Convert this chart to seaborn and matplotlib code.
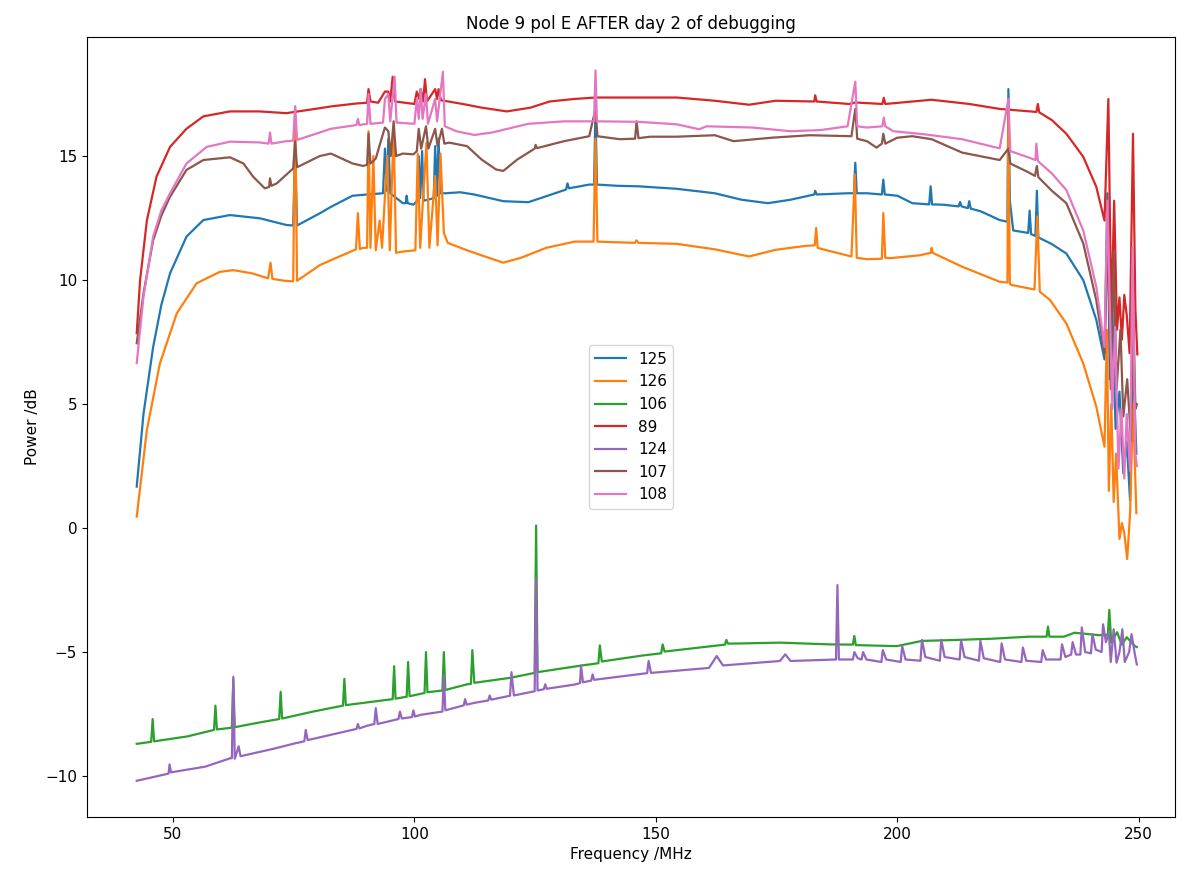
import matplotlib
matplotlib.use("Agg")
import matplotlib.pyplot as plt
import seaborn as sns

# (frequency MHz, power dB)
s125 = [(42.5,1.67),(43.9,4.6),(45.9,7.3),(47.6,9.0),(49.4,10.27),(52.8,11.75),(56.3,12.42),(61.8,12.62),
        (68.0,12.49),(73.5,12.22),(74.9,12.2),(75.3,15.4),(75.7,12.2),(80.4,12.69),(82.7,12.95),
        (87.2,13.4),(90.2,13.45),(93.5,13.5),(93.9,15.3),(94.3,13.6),(94.6,15.7),(95.0,13.5),(97.6,13.1),
        (98.2,13.1),(98.4,13.4),(98.6,13.1),(99.8,13.04),(100.6,13.2),(100.9,15.0),(101.2,13.3),(101.6,15.2),
        (101.9,13.2),(104.0,13.3),(104.3,15.4),(104.7,13.4),(105.0,15.7),(105.4,13.5),(106.5,13.5),(109.5,13.54),
        (112.4,13.45),(118.4,13.18),(123.6,13.14),(127.3,13.38),(131.4,13.65),(131.7,13.9),(132.0,13.7),
        (136.2,13.85),(137.2,13.85),(137.5,16.9),(137.8,13.85),(142.1,13.8),(146.4,13.78),(154.3,13.68),
        (162.2,13.5),(167.7,13.24),(173.2,13.1),(177.9,13.24),(182.8,13.45),(183.0,13.6),(183.3,13.45),
        (189.7,13.5),(191.0,13.5),(191.3,14.73),(191.6,13.5),(193.7,13.5),(196.8,13.45),(197.1,14.05),
        (197.4,13.45),(200.0,13.4),(203.1,13.1),(206.6,13.05),(206.9,13.78),(207.2,13.05),(209.4,13.04),
        (212.7,12.97),(213.0,13.15),(213.3,12.97),(214.6,12.9),(214.9,13.18),(215.2,12.88),(217.3,12.77),
        (221.2,12.42),(222.8,12.35),(223.0,17.7),(223.3,13.2),(224.0,12.0),(227.1,11.9),(227.4,12.8),
        (227.7,11.85),(228.6,11.78),(228.9,13.6),(229.2,11.72),(232.0,11.45),(235.0,11.07),(238.5,10.0),
        (241.2,8.4),(242.9,6.8),(243.5,13.5),(244.0,6.0),(244.5,9.0),(245.2,4.0),(246.0,5.5),(246.8,2.2),
        (247.5,3.5),(248.2,1.1),(248.8,7.0),(249.5,3.0)]

s126 = [(42.5,0.46),(44.6,3.95),(47.3,6.64),(50.8,8.66),(54.9,9.87),(59.7,10.33),(62.5,10.4),(66.4,10.27),
        (69.7,10.07),(70.2,10.7),(70.6,10.05),(73.1,9.97),(74.9,9.95),(75.3,17.0),(75.7,9.97),(80.4,10.6),
        (82.7,10.8),(87.9,11.24),(88.3,12.7),(88.7,11.25),(89.4,11.3),(90.2,11.3),
        (90.5,16.0),(90.9,11.3),(91.5,15.0),(92.0,11.2),(92.8,12.4),(93.3,11.3),(93.9,13.4),(94.4,15.0),
        (94.9,11.2),(95.7,16.1),(96.2,11.1),(97.6,11.15),(100.2,11.2),(100.7,15.1),(101.2,11.3),(101.9,13.65),
        (102.5,15.54),(103.1,11.3),(104.3,14.2),(104.8,11.4),(105.4,15.1),(106.1,11.9),(106.9,11.5),
        (110.9,11.2),(114.6,10.95),(118.4,10.7),(122.1,10.9),(127.3,11.3),(133.2,11.55),(137.1,11.55),
        (137.5,15.7),(137.9,11.55),(145.6,11.5),(146.0,11.6),(146.4,11.5),(154.3,11.46),(162.2,11.24),
        (169.3,10.95),(174.8,11.22),(181.1,11.38),(182.9,11.4),(183.2,12.1),(183.5,11.3),(185.0,11.22),
        (190.5,10.95),(191.2,14.26),(191.6,10.9),(193.7,10.84),(196.8,10.86),(197.1,12.7),(197.5,10.9),
        (198.4,10.88),(204.7,11.0),(206.9,11.1),(207.1,11.3),(207.3,11.1),(213.4,10.54),(221.2,9.93),
        (222.8,9.9),(223.0,16.9),(223.3,9.85),(223.7,9.8),(228.4,9.62),(229.0,12.57),(229.5,9.53),
        (231.6,9.2),(235.0,8.25),(238.5,6.64),(241.2,4.9),(242.9,3.28),(243.4,8.0),(243.8,1.5),
        (244.3,5.0),(244.8,1.05),(245.3,3.0),(246.0,-0.44),(246.5,0.2),(247.0,-0.2),(247.6,-1.25),
        (248.2,0.6),(248.8,5.0),(249.5,0.6)]

s106 = [(42.5,-8.7),(45.5,-8.62),(45.8,-7.7),(46.1,-8.6),(53.0,-8.4),(58.5,-8.14),(58.8,-7.16),(59.1,-8.12),
        (62.2,-8.05),(62.5,-6.1),(62.8,-8.03),(67.9,-7.84),(72.0,-7.7),(72.3,-6.6),(72.6,-7.68),(79.0,-7.4),
        (85.2,-7.16),(85.5,-6.08),(85.8,-7.14),(94.6,-6.92),(95.5,-6.9),(95.8,-5.57),(96.1,-6.88),(98.4,-6.8),
        (98.7,-5.4),(99.0,-6.78),(102.1,-6.65),(102.4,-5.0),(102.7,-6.62),(105.8,-6.55),(106.1,-5.0),
        (106.4,-6.53),(110.9,-6.3),(111.7,-6.28),(112.0,-4.92),(112.4,-6.24),(119.8,-6.04),(124.9,-5.84),
        (125.2,0.1),(125.5,-5.81),(134.7,-5.54),(138.1,-5.45),(138.4,-4.73),(138.8,-5.38),(147.2,-5.14),
        (151.1,-5.05),(151.4,-4.69),(151.8,-4.98),(164.3,-4.7),(164.6,-4.51),(164.9,-4.66),(168.3,-4.65),
        (175.7,-4.62),(185.9,-4.69),(190.8,-4.7),(191.1,-4.35),(191.4,-4.72),(199.9,-4.76),(205.1,-4.55),
        (212.4,-4.51),(219.8,-4.46),(227.1,-4.38),(230.9,-4.38),(231.2,-3.97),(231.5,-4.38),(234.5,-4.38),
        (236.7,-4.22),(241.8,-4.32),(243.6,-4.3),(243.9,-3.3),(244.3,-4.62),(245.5,-4.2),(246.5,-4.7),
        (247.5,-4.4),(249.2,-4.76),(249.6,-4.8)]

s89 = [(42.5,7.86),(43.2,10.0),(44.6,12.4),(46.6,14.17),(49.4,15.37),(52.8,16.1),(56.3,16.6),(61.8,16.8),
       (67.9,16.8),(73.5,16.73),(80.4,16.93),(82.7,17.0),(88.0,17.12),(90.2,17.15),
       (90.5,17.7),(90.9,17.2),(92.5,17.15),(93.9,17.6),(94.6,17.6),(95.0,17.2),(95.5,18.2),(96.0,17.2),
       (100.0,17.1),(100.5,17.6),(101.0,17.3),(101.3,17.7),(101.8,17.2),(102.2,18.1),(102.6,17.2),
       (104.3,17.7),(104.7,17.3),(105.0,17.7),(105.5,17.25),(110.0,17.1),(114.0,16.95),(119.1,16.8),
       (124.0,16.95),(128.0,17.2),(133.0,17.3),(137.5,17.36),(145.0,17.36),(154.3,17.36),(162.2,17.23),
       (169.3,17.07),(174.8,17.23),(182.8,17.2),(183.0,17.45),(183.3,17.2),(190.0,17.1),(191.3,17.16),
       (196.9,17.1),(197.2,17.35),(197.5,17.1),(207.1,17.27),(214.9,17.1),(221.2,16.9),(228.8,16.78),
       (229.1,17.1),(229.4,16.76),(232.0,16.45),(235.0,15.9),(238.5,14.97),(241.2,13.76),(242.9,12.4),
       (243.7,17.3),(244.3,8.4),(244.9,13.2),(245.5,8.0),(246.0,9.3),(246.5,7.6),(247.0,9.4),(247.5,8.6),
       (248.1,7.05),(248.8,15.9),(249.3,8.8),(249.7,7.0)]

s124 = [(42.5,-10.19),(47.8,-9.96),(49.1,-9.9),(49.3,-9.53),(49.6,-9.85),(56.7,-9.62),(61.9,-9.28),
        (62.2,-9.28),(62.5,-6.0),(62.8,-9.3),(63.3,-9.0),(63.6,-8.8),(64.0,-9.2),(70.8,-8.9),(75.3,-8.68),
        (77.2,-8.6),(77.5,-8.14),(77.9,-8.55),(84.2,-8.27),(88.0,-8.1),(88.3,-7.9),(88.6,-8.08),(90.2,-7.97),
        (91.7,-7.9),(92.0,-7.26),(92.4,-7.9),(96.7,-7.7),(97.0,-7.4),(97.4,-7.68),(99.5,-7.62),(99.8,-7.35),
        (100.1,-7.6),(101.3,-7.53),(105.8,-7.4),(106.1,-5.95),(106.4,-7.35),(110.2,-7.15),(110.5,-6.9),
        (110.8,-7.12),(112.4,-7.05),(115.3,-6.95),(115.6,-6.75),(115.9,-6.92),(119.8,-6.76),(120.1,-5.81),
        (120.6,-6.75),(124.9,-6.58),(125.2,-2.05),(125.5,-6.55),(126.8,-6.5),(127.1,-6.3),(127.4,-6.48),
        (133.2,-6.31),(134.3,-6.25),(134.5,-5.54),(134.9,-6.22),(136.6,-6.15),(136.9,-5.9),(137.2,-6.12),
        (142.1,-6.0),(148.2,-5.85),(148.5,-5.36),(149.0,-5.84),(161.0,-5.64),(162.6,-5.16),
        (163.9,-5.54),(175.7,-5.36),(176.8,-5.09),(177.9,-5.36),(187.3,-5.3),(187.6,-2.3),(187.9,-5.3),
        (190.8,-5.3),(191.1,-5.0),(191.8,-5.25),(192.6,-5.3),(192.9,-5.0),(193.6,-5.3),(196.7,-5.4),
        (197.0,-4.92),(197.7,-5.3),(200.7,-5.4),(201.0,-4.76),(201.7,-5.3),(204.8,-5.35),(205.1,-4.51),
        (205.8,-5.2),(208.8,-5.35),(209.1,-4.51),(209.8,-5.2),(212.9,-5.3),(213.2,-4.51),(213.9,-5.2),
        (216.9,-5.35),(217.2,-4.55),(217.9,-5.25),(221.3,-5.4),(221.6,-4.65),(222.3,-5.3),(225.7,-5.4),
        (226.0,-4.82),(226.7,-5.35),(229.8,-5.4),(230.1,-4.92),(230.8,-5.3),(233.8,-5.3),(234.1,-4.69),
        (234.8,-5.2),(236.0,-5.1),(236.3,-4.6),(237.0,-5.1),(237.9,-5.1),(238.2,-4.01),(238.9,-5.0),
        (240.1,-5.05),(240.4,-4.28),(241.1,-4.9),(242.3,-5.0),(242.6,-3.88),(243.2,-4.6),(243.8,-4.2),
        (244.2,-5.4),(244.8,-4.08),(245.4,-5.43),(246.0,-5.0),(246.6,-4.08),(247.1,-5.4),(248.0,-5.0),
        (248.5,-4.28),(249.2,-5.1),(249.6,-5.5)]

s107 = [(42.5,7.45),(43.9,9.46),(45.9,11.6),(47.6,12.6),(49.4,13.36),(52.8,14.44),(56.3,14.84),(61.8,14.95),
        (64.6,14.7),(66.6,14.17),(69.0,13.7),(69.9,13.75),(70.1,14.1),(70.4,13.8),(71.5,13.9),(74.9,14.5),
        (75.3,15.6),(75.7,14.55),(80.4,15.0),(82.7,15.1),(87.2,14.7),(89.4,14.6),(90.2,14.65),(90.5,15.9),
        (90.9,14.7),(92.0,14.9),(93.5,15.9),(93.9,16.15),(94.6,16.0),(95.1,15.0),(95.7,16.4),(96.2,15.0),
        (97.6,15.1),(99.8,15.07),(100.5,15.2),(100.9,16.1),(101.4,15.3),(102.4,16.2),(102.9,15.3),
        (104.3,16.1),(104.8,15.4),(105.7,16.1),(106.2,15.5),(107.2,15.54),(110.9,15.4),(113.9,14.86),
        (116.9,14.46),(118.4,14.4),(121.3,14.86),(124.9,15.3),(125.1,15.45),(125.4,15.32),(131.0,15.6),
        (136.2,15.8),(137.5,16.9),(137.9,15.8),(142.5,15.68),(145.7,15.7),(146.0,16.4),(146.4,15.72),
        (148.8,15.78),(154.3,15.78),(162.2,15.84),(166.1,15.6),(174.0,15.74),(181.9,15.84),(190.5,15.8),
        (191.3,16.9),(191.7,15.7),(193.7,15.6),(195.7,15.34),(196.8,15.5),(197.1,15.9),(197.5,15.5),
        (200.0,15.74),(203.1,15.8),(207.1,15.68),(213.4,15.14),(221.2,14.84),(223.0,15.3),(223.4,14.7),
        (227.1,14.35),(228.5,14.2),(228.9,14.6),(229.2,14.15),(232.0,13.6),(235.0,13.1),(238.5,11.48),
        (241.2,9.19),(242.9,7.04),(243.6,12.0),(244.2,5.6),(244.8,11.1),(245.4,5.6),(246.2,8.0),(246.8,4.5),
        (247.6,6.0),(248.4,3.5),(248.8,9.3),(249.3,4.8),(249.6,5.0)]

s108 = [(42.5,6.65),(43.9,9.33),(45.9,11.75),(47.6,12.8),(49.4,13.5),(52.8,14.7),(57.0,15.37),(61.8,15.58),
        (67.9,15.55),(69.8,15.5),(70.1,15.95),(70.4,15.5),(73.5,15.6),(74.9,15.62),(75.3,17.0),(75.7,15.65),
        (80.4,15.95),(82.7,16.1),(88.0,16.25),(88.3,16.5),(88.6,16.25),(90.2,16.3),(90.5,17.5),(90.9,16.3),
        (93.5,16.35),(93.9,17.3),(94.6,17.5),(95.0,16.4),(95.9,18.2),(96.3,16.35),(100.0,16.3),(100.5,17.3),
        (100.9,16.5),(101.3,17.7),(101.7,16.5),(102.4,17.5),(102.8,16.3),(104.3,17.3),(104.7,16.4),
        (105.9,18.4),(106.3,16.2),(108.7,16.0),(112.4,15.85),(116.1,15.95),(123.6,16.3),(131.0,16.4),
        (137.2,16.4),(137.5,18.45),(137.8,16.4),(146.4,16.38),(154.3,16.28),(159.0,16.08),(160.5,16.2),
        (170.0,16.15),(177.9,16.0),(184.2,16.05),(189.7,16.2),(191.3,18.0),(191.7,16.2),(193.7,16.15),
        (196.9,16.2),(197.2,16.55),(197.5,16.2),(199.2,16.0),(205.5,15.88),(213.4,15.68),(221.2,15.31),
        (223.0,17.3),(223.4,15.2),(227.1,14.95),(228.6,14.84),(228.8,15.5),(229.1,14.8),(232.0,14.3),
        (235.0,13.63),(238.5,12.0),(241.2,9.73),(242.9,7.3),(243.5,13.2),(244.5,4.8),(245.1,8.1),
        (245.8,2.4),(246.4,4.8),(247.0,2.0),(247.5,4.6),(248.2,2.3),(248.7,11.3),(249.3,3.0),(249.6,2.5)]

labels = ["125", "126", "106", "89", "124", "107", "108"]
series = [s125, s126, s106, s89, s124, s107, s108]
colors = sns.color_palette("tab10", 7)


def main():
    fig = plt.figure(figsize=(11.77, 8.75), dpi=100)
    ax = fig.add_axes([0.0739, 0.0663, 0.9244, 0.8914])

    for lbl, s, c in zip(labels, series, colors):
        f = [pt[0] for pt in s]
        p = [pt[1] for pt in s]
        sns.lineplot(x=f, y=p, ax=ax, color=c, label=lbl, linewidth=1.6,
                     sort=False, estimator=None)

    ax.set_xlim(32.2, 257.5)
    ax.set_ylim(-11.65, 19.8)
    ax.set_xticks([50, 100, 150, 200, 250])
    ax.set_yticks([-10, -5, 0, 5, 10, 15])
    ax.tick_params(labelsize=11)
    ax.set_title("Node 9 pol E AFTER day 2 of debugging", fontsize=12)
    ax.set_xlabel("Frequency /MHz", fontsize=11)
    ax.set_ylabel("Power /dB", fontsize=11)
    ax.legend(loc="center", fontsize=11)

    fig.savefig("out.png", dpi=100)


if __name__ == "__main__":
    main()
